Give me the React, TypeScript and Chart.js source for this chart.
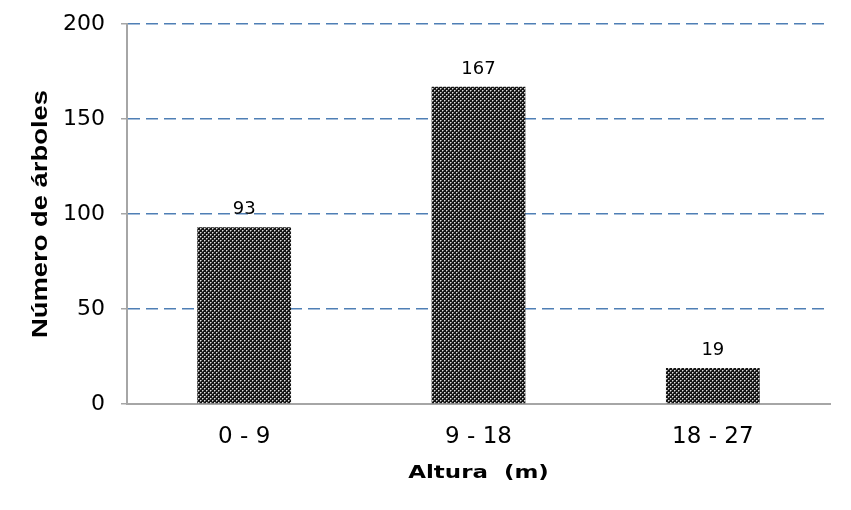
import React, { useEffect, useRef } from "react";
import { Chart, registerables } from "chart.js";

Chart.register(...registerables);

const categories = ["0 - 9", "9 - 18", "18 - 27"];
const treeCounts = [93, 167, 19];
const yTicks = [0, 50, 100, 150, 200];
const xTitle = "Altura  (m)";
const yTitle = "Número de árboles";

function makePattern(): CanvasPattern | string {
  const c = document.createElement("canvas");
  c.width = 4;
  c.height = 4;
  const g = c.getContext("2d");
  if (!g) return "#333";
  g.fillStyle = "#151515";
  g.fillRect(0, 0, 4, 4);
  g.fillStyle = "#e0e0e0";
  g.fillRect(0, 0, 1, 1);
  g.fillRect(2, 2, 1, 1);
  g.fillStyle = "#7a7a7a";
  g.fillRect(1, 0, 1, 1);
  g.fillRect(0, 1, 1, 1);
  g.fillRect(3, 2, 1, 1);
  g.fillRect(2, 3, 1, 1);
  const p = g.createPattern(c, "repeat");
  return p || "#333";
}

const valueLabels = {
  id: "valueLabels",
  afterDatasetsDraw(chart: any) {
    const ctx = chart.ctx;
    const meta = chart.getDatasetMeta(0);
    ctx.save();
    ctx.font = "18px 'DejaVu Sans'";
    ctx.fillStyle = "#000";
    ctx.textAlign = "center";
    ctx.textBaseline = "alphabetic";
    meta.data.forEach((bar: any, i: number) => {
      ctx.fillText(String(treeCounts[i]), bar.x, bar.y - 13);
    });
    ctx.restore();
  },
};

const axisTitles = {
  id: "axisTitles",
  afterDraw(chart: any) {
    const ctx = chart.ctx;
    const area = chart.chartArea;
    ctx.save();
    ctx.fillStyle = "#000";
    ctx.textAlign = "center";
    ctx.textBaseline = "alphabetic";
    // x title
    ctx.save();
    ctx.translate((area.left + area.right) / 2, 478);
    ctx.scale(1.24, 1);
    ctx.font = "bold 18.5px 'DejaVu Sans'";
    ctx.fillText(xTitle, 0, 0);
    ctx.restore();
    // y title
    ctx.save();
    ctx.translate(47, (area.top + area.bottom) / 2);
    ctx.rotate(-Math.PI / 2);
    ctx.scale(1.217, 1);
    ctx.font = "bold 22.5px 'Liberation Sans'";
    ctx.fillText(yTitle, 0, 0);
    ctx.restore();
    ctx.restore();
  },
};

export default function App() {
  const ref = useRef<HTMLCanvasElement | null>(null);
  useEffect(() => {
    if (!ref.current) return;
    const chart = new Chart(ref.current, {
      type: "bar",
      data: {
        labels: categories,
        datasets: [
          {
            data: treeCounts,
            backgroundColor: makePattern() as any,
            borderWidth: 0,
            categoryPercentage: 1,
            barPercentage: 0.4,
          },
        ],
      },
      options: {
        animation: false,
        responsive: true,
        maintainAspectRatio: false,
        layout: { padding: { left: 0, right: 21, top: 24, bottom: 10 } },
        plugins: { legend: { display: false }, tooltip: { enabled: false } },
        scales: {
          x: {
            grid: { display: false },
            border: { display: true, color: "#a6a6a6", width: 2 },
            ticks: {
              color: "#000",
              font: { family: "'DejaVu Sans'", size: 23 },
              padding: 11,
            },
            afterFit: (s: any) => {
              s.height = 96;
              s.paddingLeft = 0;
              s.paddingRight = 0;
            },
          },
          y: {
            min: 0,
            max: 200,
            afterBuildTicks: (s: any) => {
              s.ticks = yTicks.map((v) => ({ value: v }));
            },
            grid: {
              color: (c: any) => (c.tick && c.tick.value === 0 ? "rgba(0,0,0,0)" : "#4f7fb5"),
              lineWidth: 1.5,
              tickColor: "#a6a6a6",
              tickLength: 6,
              tickWidth: 1.5,
              tickBorderDash: [],
            },
            border: { display: true, color: "#a6a6a6", width: 2, dash: [12, 6] },
            ticks: {
              color: "#000",
              font: { family: "'DejaVu Sans'", size: 22 },
              padding: 16,
            },
            afterFit: (s: any) => {
              s.width = 127;
              s.paddingTop = 0;
              s.paddingBottom = 0;
            },
          },
        },
      },
      plugins: [valueLabels, axisTitles],
    });
    return () => chart.destroy();
  }, []);
  return (
    <div style={{ position: "fixed", left: 0, top: 0, width: 851, height: 510, background: "#fff" }}>
      <canvas ref={ref} />
    </div>
  );
}
